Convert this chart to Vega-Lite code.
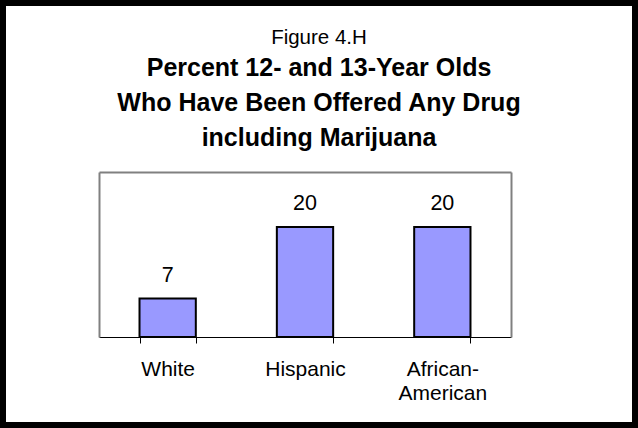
{
  "$schema": "https://vega.github.io/schema/vega-lite/v6.json",
  "autosize": {"type": "none"},
  "padding": {"left": 3, "top": 3, "right": 3, "bottom": 3},
  "width": 632,
  "height": 422,
  "background": "#ffffff",
  "config": {
    "view": {"stroke": "#000000", "strokeWidth": 6, "fill": "#ffffff"},
    "font": "Liberation Sans",
    "axis": {"grid": false, "title": null}
  },
  "title": {
    "text": "Figure 4.H",
    "subtitle": ["Percent 12- and 13-Year Olds", "Who Have Been Offered Any Drug", "including Marijuana"],
    "anchor": "middle",
    "frame": "group",
    "offset": -148,
    "font": "Liberation Sans",
    "fontSize": 20.5,
    "fontWeight": "normal",
    "color": "#000000",
    "subtitleFont": "Liberation Sans",
    "subtitleFontSize": 25,
    "subtitleFontWeight": "bold",
    "subtitleColor": "#000000",
    "subtitleLineHeight": 35,
    "subtitlePadding": 8
  },
  "data": {
    "values": [
      {"group": "White", "percent": 7},
      {"group": "Hispanic", "percent": 20},
      {"group": "African-American", "percent": 20}
    ]
  },
  "resolve": {"axis": {"x": "independent", "y": "independent"}},
  "layer": [
    {
      "mark": {"type": "bar", "fill": "#9999ff", "stroke": "#000000", "strokeWidth": 2},
      "encoding": {
        "x": {
          "field": "group",
          "type": "nominal",
          "sort": null,
          "scale": {"range": [96, 508], "paddingInner": 0.59, "paddingOuter": 0.295},
          "axis": {
            "orient": "bottom",
            "offset": -88,
            "domainColor": "#000000",
            "domainWidth": 1,
            "tickColor": "#000000",
            "tickSize": 6,
            "tickBand": "extent",
            "labelAngle": 0,
            "labelFont": "Liberation Sans",
            "labelFontSize": 21,
            "labelColor": "#000000",
            "labelBaseline": "alphabetic",
            "labelPadding": 32,
            "labelLineHeight": 24,
            "labelExpr": "datum.value == 'African-American' ? ['African-', 'American'] : datum.label"
          }
        },
        "y": {
          "field": "percent",
          "type": "quantitative",
          "scale": {"domain": [0, 30], "range": [334, 169], "nice": false},
          "axis": {
            "orient": "left",
            "offset": -96,
            "domainColor": "#808080",
            "domainWidth": 2,
            "ticks": false,
            "labels": false
          }
        }
      }
    },
    {
      "mark": {"type": "text", "dy": -17, "baseline": "alphabetic", "fontSize": 21.5, "font": "Liberation Sans", "color": "#000000"},
      "encoding": {
        "x": {
          "field": "group",
          "type": "nominal",
          "sort": null,
          "scale": {"range": [96, 508], "paddingInner": 0.59, "paddingOuter": 0.295},
          "axis": {
            "orient": "top",
            "offset": -169,
            "domainColor": "#808080",
            "domainWidth": 2,
            "ticks": false,
            "labels": false
          }
        },
        "y": {
          "field": "percent",
          "type": "quantitative",
          "scale": {"domain": [0, 30], "range": [334, 169], "nice": false},
          "axis": {
            "orient": "right",
            "offset": -124,
            "domainColor": "#808080",
            "domainWidth": 2,
            "ticks": false,
            "labels": false
          }
        },
        "text": {"field": "percent", "type": "quantitative"}
      }
    }
  ]
}
